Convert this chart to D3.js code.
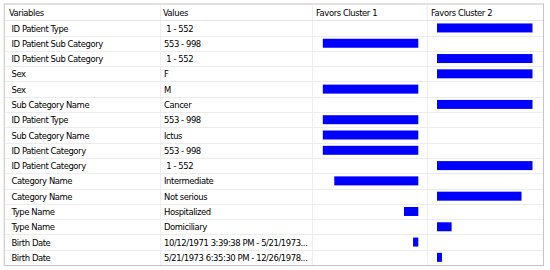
<!DOCTYPE html>
<html>
<head>
<meta charset="utf-8">
<script src="https://cdn.jsdelivr.net/npm/d3@7"></script>
<style>
html,body{margin:0;padding:0;background:#fff;}
svg{display:block;}
text{font-family:"DejaVu Sans Condensed","Liberation Sans",sans-serif;font-size:9.4px;letter-spacing:-0.42px;fill:#000;}
</style>
</head>
<body>
<svg id="chart" width="550" height="270"></svg>
<script>
const headers = ["Variables", "Values", "Favors Cluster 1", "Favors Cluster 2"];
const variables = ["ID Patient Type","ID Patient Sub Category","ID Patient Sub Category","Sex","Sex","Sub Category Name","ID Patient Type","Sub Category Name","ID Patient Category","ID Patient Category","Category Name","Category Name","Type Name","Type Name","Birth Date","Birth Date"];
const values = [" 1 - 552","553 - 998"," 1 - 552","F","M","Cancer","553 - 998","Ictus","553 - 998"," 1 - 552","Intermediate","Not serious","Hospitalized","Domiciliary","10/12/1971 3:39:38 PM - 5/21/1973...","5/21/1973 6:35:30 PM - 12/26/1978..."];
const cluster1 = [0,1,0,0,1,0,1,1,1,0,0.88,0,0.15,0,0.055,0];
const cluster2 = [1,0,1,1,0,1,0,0,0,1,0,0.885,0,0.153,0,0.052];

(function () {
const svg = d3.select("#chart");
const gLeft = 5, gRight = 543, gTop = 4.5, headerBottom = 20.3, gBottom = 265;
const colX = [5, 160, 312, 427, 543];

svg.append("rect").attr("x", gLeft - 0.5).attr("y", gTop - 0.5).attr("width", gRight - gLeft + 1).attr("height", gBottom - gTop + 1)
  .attr("fill", "#fff").attr("stroke", "#c4c4c4").attr("stroke-width", 1);
svg.append("line").attr("x1", gLeft - 1).attr("x2", gRight + 1).attr("y1", gTop - 1).attr("y2", gTop - 1).attr("stroke", "#e0e0e0");
svg.append("line").attr("x1", gLeft - 1).attr("x2", gLeft - 1).attr("y1", gTop - 1).attr("y2", gBottom + 1).attr("stroke", "#e0e0e0");

const idx = d3.range(variables.length);
const y = d3.scaleBand().domain(idx).range([headerBottom, gBottom]).paddingInner(0).paddingOuter(0);

svg.append("g").selectAll("line").data(idx.slice(1)).join("line")
  .attr("x1", gLeft).attr("x2", gRight)
  .attr("y1", d => Math.round(y(d)) + 0.5).attr("y2", d => Math.round(y(d)) + 0.5)
  .attr("stroke", "#ececec");
svg.append("line").attr("x1", gLeft).attr("x2", gRight).attr("y1", 20.5).attr("y2", 20.5).attr("stroke", "#e4e4e4");
svg.append("g").selectAll("line").data(colX.slice(1, 4)).join("line")
  .attr("x1", d => d + 0.5).attr("x2", d => d + 0.5).attr("y1", gTop).attr("y2", gBottom)
  .attr("stroke", "#eeeeee");

const headerX = [9, 163, 316, 431];
svg.append("g").selectAll("text").data(headers).join("text")
  .attr("x", (d, i) => headerX[i]).attr("y", 16).text(d => d);

const rows = svg.append("g");
rows.selectAll("text.var").data(idx).join("text").attr("class", "var")
  .attr("x", 11.5).attr("y", d => y(d) + y.bandwidth() / 2 + 3.6).text(d => variables[d]);
rows.selectAll("text.val").data(idx).join("text").attr("class", "val")
  .attr("x", 164).attr("y", d => y(d) + y.bandwidth() / 2 + 3.6)
  .attr("xml:space", "preserve").style("white-space", "pre").text(d => values[d]);

const w = d3.scaleLinear().domain([0, 1]).range([0, 95.5]);
const barH = 9;
const c1Right = 418.3, c2Left = 437;
svg.append("g").selectAll("rect").data(idx.filter(i => cluster1[i] > 0)).join("rect")
  .attr("x", d => c1Right - w(cluster1[d])).attr("width", d => w(cluster1[d]))
  .attr("y", d => y(d) + (y.bandwidth() - barH) / 2).attr("height", barH)
  .attr("fill", "#0000ff");
svg.append("g").selectAll("rect").data(idx.filter(i => cluster2[i] > 0)).join("rect")
  .attr("x", c2Left).attr("width", d => w(cluster2[d]))
  .attr("y", d => y(d) + (y.bandwidth() - barH) / 2).attr("height", barH)
  .attr("fill", "#0000ff");
})();
</script>
</body>
</html>
